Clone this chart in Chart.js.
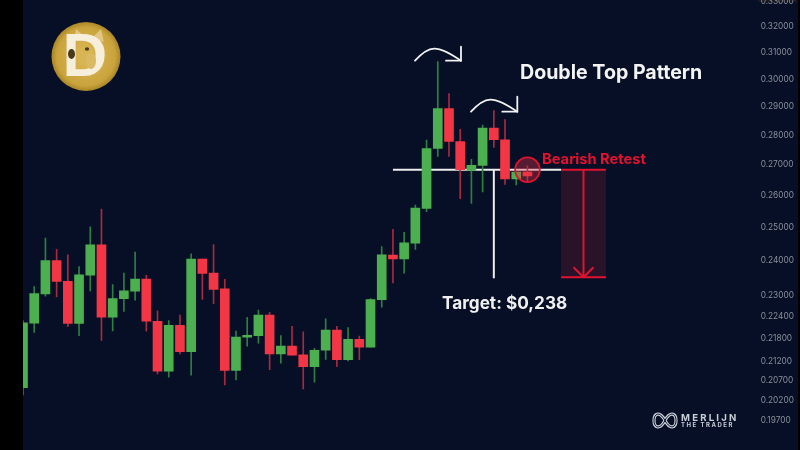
<!DOCTYPE html>
<html>
<head>
<meta charset="utf-8">
<title>Double Top Pattern</title>
<script src="https://cdn.jsdelivr.net/npm/chart.js@4"></script>
<style>
  html, body { margin: 0; width: 800px; height: 450px; overflow: hidden; background: #000; }
  canvas { display: block; filter: blur(0.45px); }
</style>
</head>
<body>
<canvas id="chart" width="800" height="460"></canvas>
<script>
/* ---- candles ---- */
const opens = [
  0.2052, 0.2222, 0.2303, 0.2400, 0.2339, 0.2221, 0.2357, 0.2447, 0.2238, 0.2290,
  0.2311, 0.2346, 0.2227, 0.2094, 0.2216, 0.2145, 0.2404, 0.2363, 0.2318, 0.2096,
  0.2184, 0.2188, 0.2244, 0.2139, 0.2160, 0.2137, 0.2106, 0.2149, 0.2203, 0.2124,
  0.2178, 0.2157, 0.2287, 0.2416, 0.2405, 0.2452, 0.2559, 0.2755, 0.2894, 0.2779,
  0.2682, 0.2698, 0.2825, 0.2785, 0.2654, 0.2676
];
const closes = [
  0.2223, 0.2304, 0.2400, 0.2339, 0.2221, 0.2358, 0.2447, 0.2238, 0.2290, 0.2312,
  0.2346, 0.2227, 0.2094, 0.2216, 0.2145, 0.2404, 0.2362, 0.2316, 0.2096, 0.2184,
  0.2189, 0.2244, 0.2139, 0.2160, 0.2136, 0.2106, 0.2149, 0.2203, 0.2124, 0.2178,
  0.2157, 0.2287, 0.2417, 0.2405, 0.2453, 0.2560, 0.2755, 0.2894, 0.2779, 0.2684,
  0.2699, 0.2825, 0.2785, 0.2654, 0.2676, 0.2664
];
const highs = [
  0.2229, 0.2324, 0.2467, 0.2433, 0.2417, 0.2382, 0.2502, 0.2557, 0.2330, 0.2363,
  0.2425, 0.2357, 0.2256, 0.2229, 0.2244, 0.2420, 0.2404, 0.2448, 0.2345, 0.2200,
  0.2238, 0.2258, 0.2252, 0.2188, 0.2213, 0.2198, 0.2154, 0.2234, 0.2213, 0.2210,
  0.2187, 0.2290, 0.2442, 0.2494, 0.2485, 0.2570, 0.2784, 0.3066, 0.2948, 0.2821,
  0.2719, 0.2836, 0.2887, 0.2855, 0.2676, 0.2697
];
const lows = [
  0.2034, 0.2197, 0.2297, 0.2295, 0.2213, 0.2188, 0.2312, 0.2175, 0.2201, 0.2254,
  0.2286, 0.2200, 0.2087, 0.2079, 0.2139, 0.2084, 0.2288, 0.2276, 0.2059, 0.2072,
  0.2160, 0.2168, 0.2098, 0.2115, 0.2136, 0.2049, 0.2066, 0.2125, 0.2106, 0.2121,
  0.2124, 0.2157, 0.2266, 0.2335, 0.2363, 0.2433, 0.2549, 0.2728, 0.2728, 0.2590,
  0.2575, 0.2612, 0.2759, 0.2636, 0.2634, 0.2642
];

/* x labels sit mostly under the window edge, like in the picture */
const dates = [
  "7", "", "", "10", "", "", "13", "", "", "16", "", "", "19", "", "", "22", "", "",
  "25", "", "", "28", "", "", "", "Aug", "", "", "4", "", "", "7", "", "", "10", "", "",
  "13", "", "", "16", "", "", "19", "", "", "22", "", "", "25", "", "", "28", "", "",
  "Sep", "", "", "4", "", "", "7", "", "", "10", ""
];
const priceTicks = [
  0.33, 0.32, 0.31, 0.30, 0.29, 0.28, 0.27, 0.26, 0.25, 0.24, 0.23,
  0.224, 0.218, 0.212, 0.207, 0.202, 0.197
];

/* pattern levels */
const neckline = 0.2684;
const targetLevel = 0.2351;

const GREEN = "#4caf50";
const RED = "#f23645";
const GREEN_WICK = "#2f7f40";
const RED_WICK = "#a92a3e";
const LINE_RED = "#e3122f";
const NAVY = "#060f26";
const FONT = "Inter, 'Noto Sans', sans-serif";

const isUp = (i) => closes[i] >= opens[i];

/* ==========================
   Drawing helpers
   ========================== */
function segment(ctx, x1, y1, x2, y2) {
  ctx.beginPath();
  ctx.moveTo(x1, y1);
  ctx.lineTo(x2, y2);
  ctx.stroke();
}

function curvedArrow(ctx, x1, x2, yBase, yTop, headW, headH) {
  ctx.strokeStyle = "#f2f2f2";
  ctx.lineWidth = 1.8;
  ctx.lineCap = "round";
  ctx.beginPath();
  ctx.moveTo(x1, yBase);
  ctx.bezierCurveTo(x1 + 14, yTop - 4, x2 - 24, yTop - 5, x2, yBase);
  ctx.stroke();
  ctx.beginPath();
  ctx.moveTo(x2, yBase - headH);
  ctx.lineTo(x2, yBase);
  ctx.lineTo(x2 - headW, yBase);
  ctx.stroke();
}

function label(ctx, text, x, y, font, color, align) {
  ctx.font = font;
  ctx.fillStyle = color;
  ctx.textAlign = align || "left";
  ctx.textBaseline = "middle";
  ctx.fillText(text, x, y);
}

function drawCoin(ctx) {
  const cx = 86, cy = 56.5, r = 34.5;
  const g = ctx.createRadialGradient(cx, cy, 8, cx, cy, r);
  g.addColorStop(0, "#d8b452");
  g.addColorStop(0.8, "#c9a33c");
  g.addColorStop(1, "#a98526");
  ctx.fillStyle = g;
  ctx.beginPath();
  ctx.arc(cx, cy, r, 0, Math.PI * 2);
  ctx.fill();

  /* ears */
  ctx.fillStyle = "#e2c683";
  ctx.beginPath();
  ctx.moveTo(74, 40); ctx.lineTo(76, 29); ctx.lineTo(86, 38);
  ctx.moveTo(92, 38); ctx.lineTo(101, 29); ctx.lineTo(104, 42);
  ctx.fill();

  label(ctx, "D", 85, 59, "bold 62px 'Liberation Sans', sans-serif", "#f6efdc", "center");

  /* dog face on the letter */
  ctx.fillStyle = "#d9b964";
  ctx.beginPath();
  ctx.ellipse(91, 61, 5, 8, 0, 0, Math.PI * 2);
  ctx.fill();
  ctx.fillStyle = "#4a3a1c";
  ctx.beginPath();
  ctx.ellipse(71.5, 54, 3.5, 5, 0, 0, Math.PI * 2);
  ctx.ellipse(87, 49, 2.2, 1.8, 0, 0, Math.PI * 2);
  ctx.fill();
}

function drawMerlijn(ctx) {
  const c = "#c9ced6";
  ctx.lineCap = "round";
  const loop = () => {
    ctx.beginPath();
    ctx.moveTo(665, 420.5);
    ctx.bezierCurveTo(660, 411, 654, 413, 654, 420.5);
    ctx.bezierCurveTo(654, 428, 660, 430, 665, 420.5);
    ctx.bezierCurveTo(670, 411, 676, 413, 676, 420.5);
    ctx.bezierCurveTo(676, 428, 670, 430, 665, 420.5);
    ctx.stroke();
  };
  ctx.strokeStyle = c;
  ctx.lineWidth = 3.2;
  loop();
  ctx.strokeStyle = NAVY;
  ctx.lineWidth = 1;
  loop();

  ctx.letterSpacing = "2.2px";
  label(ctx, "MERLIJN", 681, 418.3, `bold 9.6px ${FONT}`, c);
  ctx.letterSpacing = "1.5px";
  label(ctx, "THE TRADER", 681, 425, `bold 6px ${FONT}`, c);
  ctx.letterSpacing = "0px";
}

/* ==========================
   Plugin: backdrop + pattern drawing
   ========================== */
const backdrop = {
  id: "backdrop",
  beforeDraw(chart) {
    const { ctx, width, height, chartArea } = chart;
    ctx.save();
    ctx.fillStyle = "#000";
    ctx.fillRect(0, 0, width, height);
    ctx.fillStyle = NAVY;
    ctx.fillRect(chartArea.left, 0, 798 - chartArea.left, height);
    ctx.fillStyle = "#1a1a20";
    ctx.fillRect(758, 0, 39, 2);
    ctx.restore();
  },
  beforeDatasetsDraw(chart) {
    const { ctx, scales: { x, y } } = chart;
    ctx.save();
    ctx.strokeStyle = "#eeeeee";
    ctx.lineWidth = 2;
    segment(ctx, x.getPixelForValue(33), y.getPixelForValue(neckline), x.getPixelForValue(48), y.getPixelForValue(neckline));
    segment(ctx, x.getPixelForValue(42), y.getPixelForValue(neckline), x.getPixelForValue(42), y.getPixelForValue(targetLevel) + 1);
    ctx.restore();
  },
  afterDatasetsDraw(chart) {
    const { ctx, scales: { x, y } } = chart;
    const top = y.getPixelForValue(neckline);
    const bottom = y.getPixelForValue(targetLevel);
    const xL = x.getPixelForValue(48);
    const xR = x.getPixelForValue(52);
    const xM = x.getPixelForValue(50);
    ctx.save();

    /* target box */
    ctx.fillStyle = "rgba(214, 40, 60, 0.17)";
    ctx.fillRect(xL, top, xR - xL, bottom - top);
    ctx.strokeStyle = LINE_RED;
    ctx.lineWidth = 2;
    segment(ctx, xL, top, xR, top);
    segment(ctx, xL, bottom, xR, bottom);
    segment(ctx, xM, top, xM, bottom);
    segment(ctx, xM - 10, bottom - 10, xM, bottom);
    segment(ctx, xM + 10, bottom - 10, xM, bottom);

    /* retest circle */
    const cx = x.getPixelForValue(45);
    ctx.fillStyle = "rgba(226, 50, 70, 0.36)";
    ctx.strokeStyle = LINE_RED;
    ctx.lineWidth = 1.8;
    ctx.beginPath();
    ctx.arc(cx, top, 12.3, 0, Math.PI * 2);
    ctx.fill();
    ctx.stroke();

    curvedArrow(ctx, 415, 461, 60.7, 49, 15, 14);
    curvedArrow(ctx, 471, 517.3, 111.7, 100, 15, 15);

    label(ctx, "Double Top Pattern", 520, 73, `bold 19.6px ${FONT}`, "#f4f4f4");
    label(ctx, "Bearish Retest", 542, 159.5, `bold 14.7px ${FONT}`, LINE_RED);
    label(ctx, "Target: $0,238", 442, 303.5, `bold 17.2px ${FONT}`, "#f0f0f0");

    drawCoin(ctx);
    drawMerlijn(ctx);
    ctx.restore();
  }
};

/* ==========================
   Chart
   ========================== */
new Chart(document.getElementById("chart"), {
  type: "bar",
  data: {
    labels: dates,
    datasets: [
      {
        label: "Wick",
        data: lows.map((l, i) => [l, highs[i]]),
        backgroundColor: lows.map((_, i) => (isUp(i) ? GREEN_WICK : RED_WICK)),
        barThickness: 1,
        grouped: false,
        order: 2
      },
      {
        label: "Body",
        data: opens.map((o, i) => [o, closes[i]]),
        backgroundColor: opens.map((_, i) => (isUp(i) ? GREEN : RED)),
        barThickness: 9,
        grouped: false,
        order: 1
      }
    ]
  },
  options: {
    responsive: false,
    animation: false,
    layout: { autoPadding: false, padding: { left: 23, right: 5, top: 0, bottom: 0 } },
    plugins: { legend: { display: false }, tooltip: { enabled: false } },
    scales: {
      x: {
        offset: false,
        grid: { display: false },
        border: { display: false },
        afterFit: (s) => { s.height = 17; s.paddingLeft = 0; s.paddingRight = 0; },
        ticks: {
          autoSkip: false,
          maxRotation: 0,
          minRotation: 0,
          padding: 5,
          color: "#8b909b",
          font: { family: FONT, size: 9 }
        }
      },
      y: {
        type: "logarithmic",
        position: "right",
        min: 0.1917,
        max: 0.3308,
        grid: { display: false },
        border: { display: false },
        afterBuildTicks: (s) => { s.ticks = priceTicks.map((v) => ({ value: v })); },
        afterFit: (s) => { s.width = 43.35; s.paddingTop = 0; s.paddingBottom = 0; },
        ticks: {
          autoSkip: false,
          padding: 1,
          color: "#8b909b",
          font: { family: FONT, size: 8.3 },
          callback: (v) => Number(v).toFixed(5)
        }
      }
    }
  },
  plugins: [backdrop]
});
</script>
</body>
</html>
